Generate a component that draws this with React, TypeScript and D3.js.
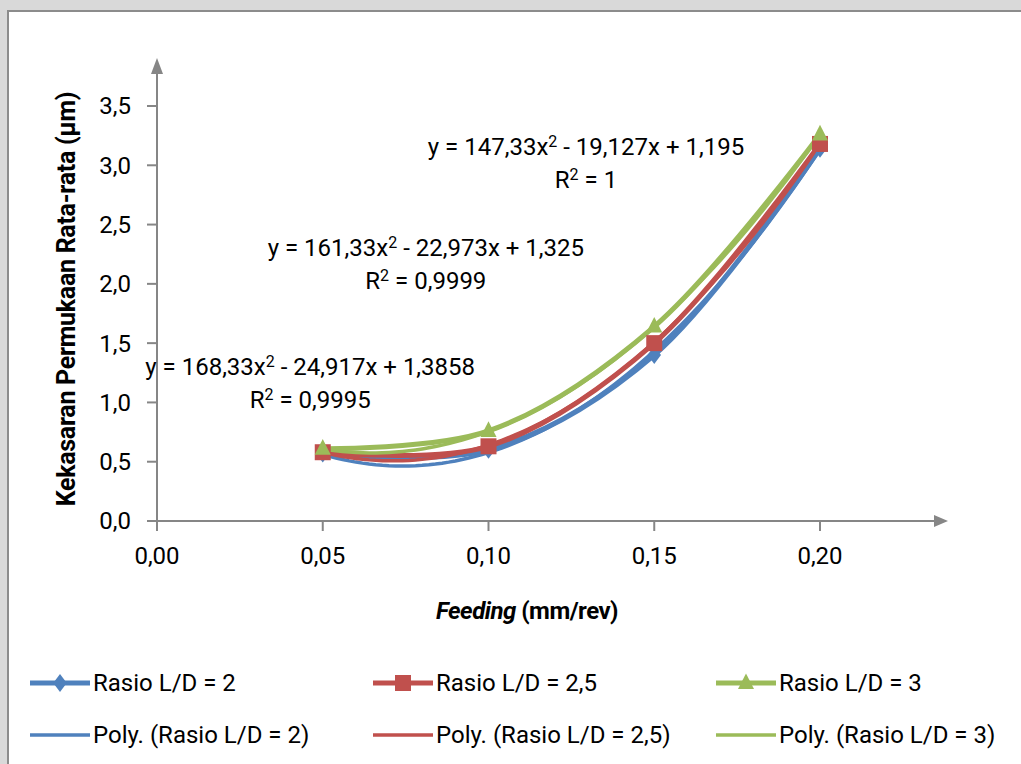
import React from 'react';
import * as d3 from 'd3';

// feeding values (mm/rev)
const feeding = [0.05, 0.10, 0.15, 0.20];

// average roughness per L/D ratio (µm)
const rasio2 = [0.57, 0.60, 1.40, 3.14];
const rasio25 = [0.58, 0.63, 1.50, 3.18];
const rasio3 = [0.61, 0.76, 1.64, 3.26];

// polynomial trendline coefficients [a, b, c] of y = a x² + b x + c
const coef2 = [168.33, -24.917, 1.3858];
const coef25 = [161.33, -22.973, 1.325];
const coef3 = [147.33, -19.127, 1.195];

const seriesNames = ['Rasio L/D = 2', 'Rasio L/D = 2,5', 'Rasio L/D = 3'];
const trendNames = ['Poly. (Rasio L/D = 2)', 'Poly. (Rasio L/D = 2,5)', 'Poly. (Rasio L/D = 3)'];
const eqLabels = [
    ['y = 168,33x² - 24,917x + 1,3858', 'R² = 0,9995'],
    ['y = 161,33x² - 22,973x + 1,325', 'R² = 0,9999'],
    ['y = 147,33x² - 19,127x + 1,195', 'R² = 1'],
];
// where each equation label sits, in data units
const eqPos = [[0.0462, 1.23], [0.0811, 2.235], [0.1294, 3.087]];

const xTicks = [0, 0.05, 0.10, 0.15, 0.20];
const yTicks = [0, 0.5, 1.0, 1.5, 2.0, 2.5, 3.0, 3.5];

const colors = ['#4f81bd', '#c0504d', '#9bbb59'];
const FONT = 'Roboto, "Liberation Sans", sans-serif';

// put the ² up as a real superscript
function sup(s) {
    var parts = s.split('²');
    var out = [];
    parts.forEach((p, i) => {
        out.push(<tspan key={'p' + i} dy={i > 0 ? 8 : 0}>{p}</tspan>);
        if (i < parts.length - 1) {
            out.push(<tspan key={'s' + i} fontSize={16} dy={-8}>2</tspan>);
        }
    });
    return out;
}

export default function App() {
    var width = 1021, height = 764;
    var x = d3.scaleLinear().domain([0, 0.2]).range([157, 820]);
    var y = d3.scaleLinear().domain([0, 3.5]).range([521, 106]);

    var data = [rasio2, rasio25, rasio3];
    var coefs = [coef2, coef25, coef3];

    // smoothed series line
    var smooth = d3.line<number>()
        .x((d, i) => x(feeding[i]))
        .y(d => y(d))
        .curve(d3.curveCatmullRom.alpha(0.5));

    var trendLine = d3.line<number>()
        .x(d => x(d[0]))
        .y(d => y(d[1]));

    var xs = d3.range(0.05, 0.2001, 0.002);

    var marker = (k, cx, cy, s) => {
        if (k === 0) {
            return <path d={`M${cx},${cy - s}L${cx + s * 0.75},${cy}L${cx},${cy + s}L${cx - s * 0.75},${cy}Z`} fill={colors[0]} />;
        }
        if (k === 1) {
            return <rect x={cx - s} y={cy - s} width={s * 2} height={s * 2} fill={colors[1]} />;
        }
        return <path d={`M${cx},${cy - s * 1.2}L${cx + s},${cy + s * 0.75}L${cx - s},${cy + s * 0.75}Z`} fill={colors[2]} />;
    };
    var msize = [9, 8, 8];

    var axisColor = '#868686';
    var yTop = 72, xRight = 934;

    var legendCols = [30, 373, 716];
    var fs = 24;

    return (
        <div style={{ position: 'absolute', left: 0, top: 0 }}>
            <svg width={width} height={height} style={{ display: 'block' }}>
                <rect x={0} y={0} width={width} height={height} fill="#d9d9d9" />
                <rect x={8} y={11} width={width + 20} height={height + 20} fill="#ffffff" stroke="#8c8c8c" strokeWidth={2} />

                {/* axes */}
                <line x1={157} x2={157} y1={521} y2={yTop} stroke={axisColor} strokeWidth={2} />
                <path d={`M157,58L151,${yTop + 2}L163,${yTop + 2}Z`} fill={axisColor} />
                <line x1={157} x2={xRight} y1={521} y2={521} stroke={axisColor} strokeWidth={2} />
                <path d={`M${xRight + 14},521L${xRight},515L${xRight},527Z`} fill={axisColor} />

                {yTicks.map(t => (
                    <g key={'y' + t}>
                        <line x1={147} x2={157} y1={y(t)} y2={y(t)} stroke={axisColor} strokeWidth={2} />
                        <text x={131} y={y(t)} dy="0.35em" textAnchor="end" fontFamily={FONT} fontSize={fs} fill="#000">
                            {t.toFixed(1).replace('.', ',')}
                        </text>
                    </g>
                ))}
                {xTicks.map(t => (
                    <g key={'x' + t}>
                        <line x1={x(t)} x2={x(t)} y1={521} y2={531} stroke={axisColor} strokeWidth={2} />
                        <text x={x(t)} y={556} dy="0.35em" textAnchor="middle" fontFamily={FONT} fontSize={fs} fill="#000">
                            {t.toFixed(2).replace('.', ',')}
                        </text>
                    </g>
                ))}

                {/* axis titles */}
                <text x={527} y={611} dy="0.35em" textAnchor="middle" fontFamily={FONT} fontSize={fs} fontWeight="bold" fill="#000" letterSpacing={-0.5}>
                    <tspan fontStyle="italic">Feeding</tspan> (mm/rev)
                </text>
                <text transform="translate(66,299) rotate(-90)" dy="0.35em" textAnchor="middle" fontFamily={FONT} fontSize={25} fontWeight="bold" fill="#000" letterSpacing={-0.3}>
                    Kekasaran Permukaan Rata-rata (µm)
                </text>

                {/* series lines */}
                {data.map((s, k) => (
                    <path key={'s' + k} d={smooth(s)} fill="none" stroke={colors[k]} strokeWidth={5} />
                ))}
                {/* trendlines */}
                {coefs.map((c, k) => (
                    <path key={'t' + k} d={trendLine(xs.map(v => [v, c[0] * v * v + c[1] * v + c[2]]))} fill="none" stroke={colors[k]} strokeWidth={3.5} />
                ))}
                {/* markers */}
                {data.map((s, k) => (
                    <g key={'m' + k}>
                        {s.map((v, i) => <g key={i}>{marker(k, x(feeding[i]), y(v), msize[k])}</g>)}
                    </g>
                ))}

                {/* equation labels */}
                {eqLabels.map((lab, k) => (
                    <g key={'e' + k} fontFamily={FONT} fontSize={fs} fill="#000">
                        <text x={x(eqPos[k][0])} y={y(eqPos[k][1])} dy="0.35em" textAnchor="middle">{sup(lab[0])}</text>
                        <text x={x(eqPos[k][0])} y={y(eqPos[k][1]) + 33} dy="0.35em" textAnchor="middle">{sup(lab[1])}</text>
                    </g>
                ))}

                {/* legend */}
                {seriesNames.map((n, k) => (
                    <g key={'l' + k}>
                        <line x1={legendCols[k]} x2={legendCols[k] + 60} y1={683} y2={683} stroke={colors[k]} strokeWidth={5} />
                        {marker(k, legendCols[k] + 30, 683, msize[k])}
                        <text x={legendCols[k] + 63} y={683} dy="0.35em" fontFamily={FONT} fontSize={fs} fill="#000">{n}</text>
                    </g>
                ))}
                {trendNames.map((n, k) => (
                    <g key={'lt' + k}>
                        <line x1={legendCols[k]} x2={legendCols[k] + 60} y1={735} y2={735} stroke={colors[k]} strokeWidth={3.5} />
                        <text x={legendCols[k] + 63} y={735} dy="0.35em" fontFamily={FONT} fontSize={fs} fill="#000">{n}</text>
                    </g>
                ))}
            </svg>
        </div>
    );
}
